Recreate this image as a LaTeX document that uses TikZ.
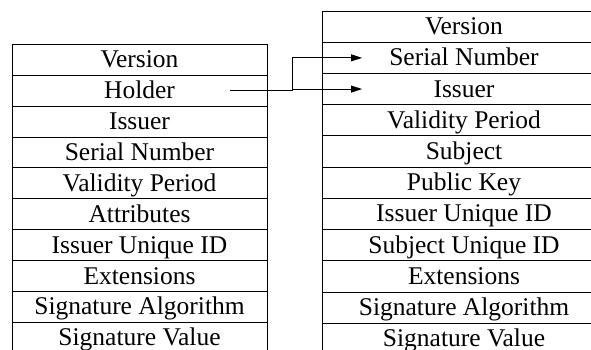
\documentclass[tikz,border=0pt]{standalone}
\usepackage{fontspec}
\setmainfont{Liberation Serif}
\usetikzlibrary{arrows.meta,calc}
\begin{document}
\begin{tikzpicture}[x=1pt,y=-1pt,
  cell/.style={draw=black,line width=0.9pt,rectangle,inner sep=0pt,text height=21pt,text depth=5pt,font=\fontsize{25.5}{27}\selectfont},
  cellL/.style={cell,minimum width=255pt,minimum height=30.9pt},
  cellR/.style={cell,minimum width=283pt,minimum height=31.23pt},
  conn/.style={draw=black,line width=0.9pt},
  arr/.style={conn,-{Triangle[length=11pt,width=7pt]}}]
\clip (0,0) rectangle (591,350);
\fill[white] (0,0) rectangle (591,350);
% left table
\foreach \t [count=\i] in {Version,Holder,Issuer,Serial Number,Validity Period,Attributes,Issuer Unique ID,Extensions,Signature Algorithm,Signature Value}
  \node[cellL] (l\i) at (139.5,{44.3+30.9*(\i-0.5)}) {\t};
% right table
\foreach \t [count=\i] in {Version,Serial Number,Issuer,Validity Period,Subject,Public Key,Issuer Unique ID,Subject Unique ID,Extensions,Signature Algorithm,Signature Value}
  \node[cellR] (r\i) at (464,{11+31.23*(\i-0.5)}) {\t};
% connectors
\coordinate (hs) at ($(l2.east)+(-37,0)$);
\coordinate (jn) at ($(l2.east)+(25,0)$);
\coordinate (t2) at ($(r2.west)+(40,0)$);
\coordinate (t3) at ($(r3.west)+(40,0)$);
\draw[arr] (hs) -- (jn) -- (jn |- t3) -- (t3);
\draw[arr] (jn) -- (jn |- t2) -- (t2);
\end{tikzpicture}
\end{document}
